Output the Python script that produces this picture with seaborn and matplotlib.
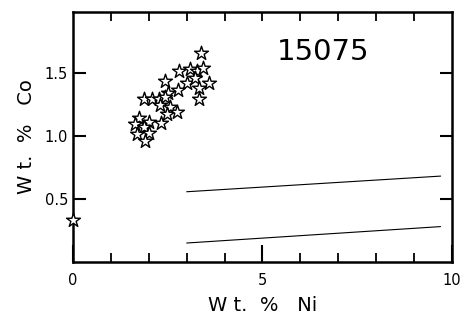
import numpy as np
import pandas as pd
import seaborn as sns
import matplotlib.pyplot as plt

# star points (Wt. % Ni, Wt. % Co)
ni = [3.37, 2.80, 3.09, 3.26, 3.42, 2.43, 3.00, 3.22, 3.59, 3.33, 2.78, 2.51,
      3.33, 1.86, 2.08, 2.28, 2.43, 2.30, 2.56, 2.49, 2.74, 1.75, 1.64, 2.01,
      2.32, 1.86, 1.70, 2.01, 1.90, 0.0]
co = [1.656, 1.516, 1.53, 1.516, 1.54, 1.436, 1.42, 1.46, 1.42, 1.38, 1.36, 1.34,
      1.29, 1.29, 1.29, 1.29, 1.31, 1.24, 1.23, 1.17, 1.19, 1.14, 1.09, 1.11,
      1.10, 1.07, 1.01, 1.02, 0.955, 0.33]

# two reference lines
line_x = [3.0, 9.7]
upper_y = [0.556, 0.68]
lower_y = [0.15, 0.28]

pts = pd.DataFrame({"ni": ni, "co": co})
lines = pd.DataFrame({
    "ni": line_x + line_x,
    "co": upper_y + lower_y,
    "line": ["upper"] * 2 + ["lower"] * 2,
})

sns.set_style("ticks", {"axes.edgecolor": "black", "text.color": "black",
                        "axes.labelcolor": "black", "xtick.color": "black",
                        "ytick.color": "black"})
plt.rcParams["font.family"] = ["DejaVu Sans"]

fig = plt.figure(figsize=(4.69, 3.23), dpi=100)
ax = fig.add_axes([0.1557, 0.189, 0.808, 0.774])

sns.lineplot(data=lines, x="ni", y="co", units="line", estimator=None,
             color="black", linewidth=0.8, ax=ax)
sns.scatterplot(data=pts, x="ni", y="co", marker="*", s=110,
                facecolor="white", edgecolor="black", linewidth=1.0,
                ax=ax, zorder=5, clip_on=False)

ax.set_xlim(0, 10)
ax.set_ylim(0, 1.98)
ax.set_xticks([0, 5, 10])
ax.set_xticklabels(["0", "5", "10"])
ax.set_xticks(np.arange(1, 10), minor=True)
ax.set_yticks([0.5, 1.0, 1.5])
ax.set_yticklabels(["0.5", "1.0", "1.5"])

for s in ax.spines.values():
    s.set_linewidth(1.8)
    s.set_visible(True)

# top edge: only short ticks, also at 5
ax.tick_params(axis="x", which="major", direction="in", length=12, width=1.5,
               labelsize=10.5, top=False, pad=8)
ax.tick_params(axis="x", which="minor", direction="in", length=6.5, width=1.3,
               top=True)
ax.tick_params(axis="y", which="major", direction="in", length=9, width=1.5,
               labelsize=10.5, right=True)
sec = ax.secondary_xaxis("top")
sec.set_xticks([5])
sec.set_xticklabels([])
sec.tick_params(direction="in", length=6.5, width=1.3)
sec.spines["top"].set_visible(False)

ax.set_xlabel("W t.  %   Ni", fontsize=14, labelpad=6)
ax.set_ylabel("W t.  %   Co", fontsize=14, labelpad=6)

ax.text(0.66, 0.84, "15075", transform=ax.transAxes, fontsize=21,
        ha="center", va="center")

fig.savefig("out.png", dpi=100)
